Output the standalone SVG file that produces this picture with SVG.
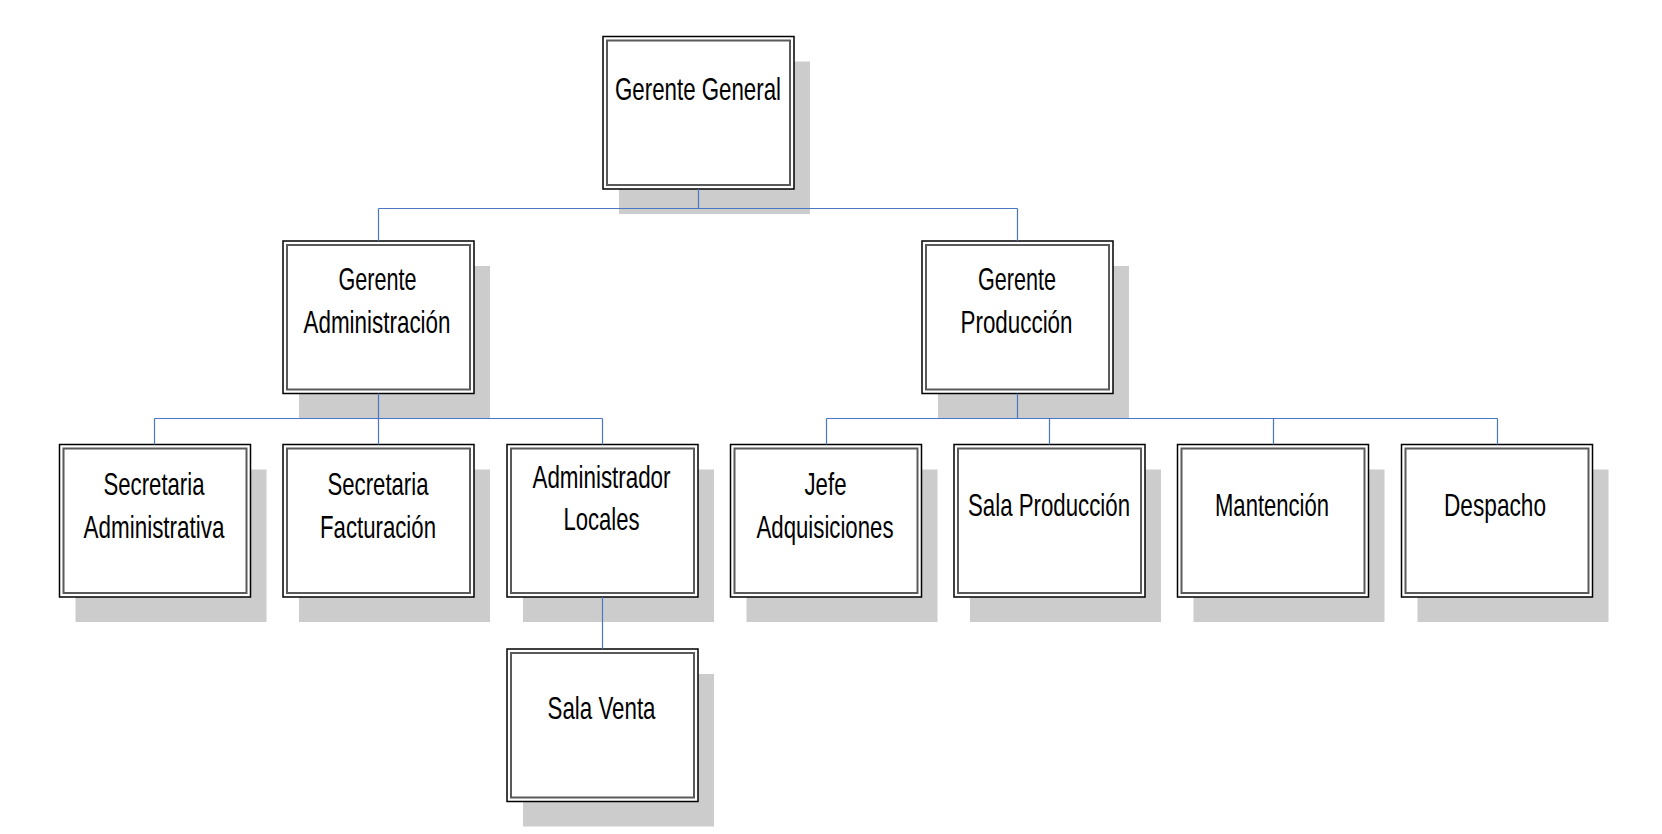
<svg xmlns="http://www.w3.org/2000/svg" width="1662" height="834" viewBox="0 0 1662 834">
<style>
.shadow{fill:#cccccc;stroke:none}
.outer{fill:#ffffff;stroke:#000000;stroke-width:1.5}
.inner{fill:none;stroke:#5a5a5a;stroke-width:2}
.lbl{font-family:"Liberation Sans",Arial,sans-serif;font-size:32px;fill:#000000;text-anchor:middle}
.conn{fill:none;stroke:#4a76c4;stroke-width:1.2}
</style>
<rect width="1662" height="834" fill="#ffffff"/>
<g id="gerente-general">
<rect class="shadow" x="619" y="61.5" width="191" height="152.5"/>
<rect class="outer" x="603" y="36.5" width="191" height="152.5"/>
<rect class="inner" x="607" y="40.5" width="183" height="144.5"/>
<text class="lbl" x="698" y="100" textLength="166" lengthAdjust="spacingAndGlyphs">Gerente General</text>
</g>
<g id="gerente-administracion">
<rect class="shadow" x="299" y="266" width="191" height="152.5"/>
<rect class="outer" x="283" y="241" width="191" height="152.5"/>
<rect class="inner" x="287" y="245" width="183" height="144.5"/>
<text class="lbl" x="377.5" y="290" textLength="78" lengthAdjust="spacingAndGlyphs">Gerente</text>
<text class="lbl" x="377" y="333" textLength="147" lengthAdjust="spacingAndGlyphs">Administración</text>
</g>
<g id="gerente-produccion">
<rect class="shadow" x="938" y="266" width="191" height="152.5"/>
<rect class="outer" x="922" y="241" width="191" height="152.5"/>
<rect class="inner" x="926" y="245" width="183" height="144.5"/>
<text class="lbl" x="1017" y="290" textLength="78" lengthAdjust="spacingAndGlyphs">Gerente</text>
<text class="lbl" x="1016.5" y="333" textLength="112" lengthAdjust="spacingAndGlyphs">Producción</text>
</g>
<g id="secretaria-administrativa">
<rect class="shadow" x="75.5" y="469.5" width="191" height="152.5"/>
<rect class="outer" x="59.5" y="444.5" width="191" height="152.5"/>
<rect class="inner" x="63.5" y="448.5" width="183" height="144.5"/>
<text class="lbl" x="154" y="495" textLength="101" lengthAdjust="spacingAndGlyphs">Secretaria</text>
<text class="lbl" x="154" y="538" textLength="141" lengthAdjust="spacingAndGlyphs">Administrativa</text>
</g>
<g id="secretaria-facturacion">
<rect class="shadow" x="299" y="469.5" width="191" height="152.5"/>
<rect class="outer" x="283" y="444.5" width="191" height="152.5"/>
<rect class="inner" x="287" y="448.5" width="183" height="144.5"/>
<text class="lbl" x="378" y="495" textLength="101" lengthAdjust="spacingAndGlyphs">Secretaria</text>
<text class="lbl" x="378" y="538" textLength="116" lengthAdjust="spacingAndGlyphs">Facturación</text>
</g>
<g id="administrador-locales">
<rect class="shadow" x="523" y="469.5" width="191" height="152.5"/>
<rect class="outer" x="507" y="444.5" width="191" height="152.5"/>
<rect class="inner" x="511" y="448.5" width="183" height="144.5"/>
<text class="lbl" x="601.5" y="487.5" textLength="138" lengthAdjust="spacingAndGlyphs">Administrador</text>
<text class="lbl" x="601.5" y="530" textLength="76" lengthAdjust="spacingAndGlyphs">Locales</text>
</g>
<g id="jefe-adquisiciones">
<rect class="shadow" x="746.5" y="469.5" width="191" height="152.5"/>
<rect class="outer" x="730.5" y="444.5" width="191" height="152.5"/>
<rect class="inner" x="734.5" y="448.5" width="183" height="144.5"/>
<text class="lbl" x="825.5" y="495" textLength="42" lengthAdjust="spacingAndGlyphs">Jefe</text>
<text class="lbl" x="825" y="538" textLength="137" lengthAdjust="spacingAndGlyphs">Adquisiciones</text>
</g>
<g id="sala-produccion">
<rect class="shadow" x="970" y="469.5" width="191" height="152.5"/>
<rect class="outer" x="954" y="444.5" width="191" height="152.5"/>
<rect class="inner" x="958" y="448.5" width="183" height="144.5"/>
<text class="lbl" x="1049" y="516" textLength="162" lengthAdjust="spacingAndGlyphs">Sala Producción</text>
</g>
<g id="mantencion">
<rect class="shadow" x="1193.5" y="469.5" width="191" height="152.5"/>
<rect class="outer" x="1177.5" y="444.5" width="191" height="152.5"/>
<rect class="inner" x="1181.5" y="448.5" width="183" height="144.5"/>
<text class="lbl" x="1272" y="516" textLength="114" lengthAdjust="spacingAndGlyphs">Mantención</text>
</g>
<g id="despacho">
<rect class="shadow" x="1417.5" y="469.5" width="191" height="152.5"/>
<rect class="outer" x="1401.5" y="444.5" width="191" height="152.5"/>
<rect class="inner" x="1405.5" y="448.5" width="183" height="144.5"/>
<text class="lbl" x="1495" y="515.5" textLength="102" lengthAdjust="spacingAndGlyphs">Despacho</text>
</g>
<g id="sala-venta">
<rect class="shadow" x="523" y="674" width="191" height="152.5"/>
<rect class="outer" x="507" y="649" width="191" height="152.5"/>
<rect class="inner" x="511" y="653" width="183" height="144.5"/>
<text class="lbl" x="601.5" y="719" textLength="108" lengthAdjust="spacingAndGlyphs">Sala Venta</text>
</g>
<g id="connectors">
<path class="conn" d="M698.5 189 V208.5 M378.5 208.5 H1017.5 M378.5 208.5 V241 M1017.5 208.5 V241"/>
<path class="conn" d="M378.5 393.5 V418.5 M154.5 418.5 H602.5 M154.5 418.5 V444.5 M378.5 418.5 V444.5 M602.5 418.5 V444.5"/>
<path class="conn" d="M1017.5 393.5 V418.5 M826.5 418.5 H1497.5 M826.5 418.5 V444.5 M1049.5 418.5 V444.5 M1273.5 418.5 V444.5 M1497.5 418.5 V444.5"/>
<path class="conn" d="M602.5 597 V649"/>
</g>
</svg>
